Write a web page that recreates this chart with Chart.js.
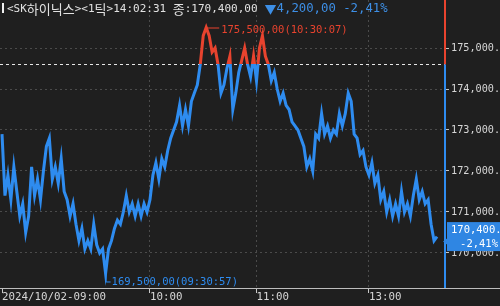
<!DOCTYPE html>
<html><head><meta charset="utf-8">
<script src="https://cdn.jsdelivr.net/npm/chart.js@4"></script>
<style>html,body{margin:0;padding:0;background:#1f1f1f;overflow:hidden}#wrap{width:500px;height:306px;position:relative}</style>
</head><body><div id="wrap"><canvas id="c" width="500" height="306"></canvas></div>
<script>
// ---- data (tick sequence, price in KRW) ----
const prices = [
172900,171400,171900,171300,172100,171500,170900,171200,170500,170900,
172100,171400,171800,171300,172000,172600,172800,171800,172100,171700,
172300,171500,171300,170900,171200,170700,170300,170600,170100,170300,
170100,170700,170200,170000,170100,169500,170100,170300,170600,170800,
170700,171000,171400,171000,171200,170900,171200,170900,171200,171000,
171300,171900,172200,171800,172300,172100,172500,172800,173000,173200,
173600,173100,173500,173100,173700,173900,174100,174600,175300,175500,
175300,174900,175000,174600,173900,174100,174500,174800,173500,173900,
174400,174700,175000,174600,174300,174800,174200,175000,175300,174800,
174600,174200,174400,174000,173700,173900,173600,173500,173200,173100,
173000,172800,172600,172100,172300,172000,172900,172800,173400,172900,
173100,172800,173000,172900,173400,173100,173400,173900,173700,172900,
172800,172400,172500,172100,171900,172200,171700,171900,171300,171500,
171000,171300,170900,171200,170900,171500,171000,171200,170900,171400,
171800,171300,171500,171200,171300,170700,170300,170400
];
const timeTickIndex = [0, 50, 86, 124];
const timeTickLabels = ['2024/10/02-09:00', '10:00', '11:00', '13:00'];
const priceTicks = [170000, 171000, 172000, 173000, 174000, 175000];
const prevClose = 174600;
const stockName = 'SK하이닉스';
const tickUnit = '1틱';
const lastTime = '14:02:31';
const highTime = '10:30:07';
const lowTime = '09:30:57';

// ---- styles ----
const BG = '#1f1f1f';
const BLUE = '#2e8cf0';
const RED = '#e8432e';
const TXT = '#d6d6d6';
const GRID = 'rgba(105,105,105,0.6)';
const MONO = '"DejaVu Sans Mono", "Noto Sans CJK KR", monospace';
const HANGUL = '"Noto Sans CJK KR", sans-serif';

const fmtC = v => Math.abs(v).toLocaleString('en-US') + ',00';
const fmtAxis = v => v.toLocaleString('en-US') + '.00';

const last = prices[prices.length - 1];
const chg = last - prevClose;
const pct = Math.abs(chg / prevClose * 100).toFixed(2).replace('.', ',');

function lineColor(c) {
  const ch = c.chart, a = ch.chartArea;
  if (!a) return BLUE;
  const y = ch.scales.y.getPixelForValue(prevClose);
  const g = ch.ctx.createLinearGradient(0, a.top, 0, a.bottom);
  const f = Math.min(1, Math.max(0, (y - a.top) / (a.bottom - a.top)));
  g.addColorStop(0, RED); g.addColorStop(f, RED);
  g.addColorStop(f, BLUE); g.addColorStop(1, BLUE);
  return g;
}

// draw text with half-width ASCII and full-width Hangul, like the HTS font
const WIDE = /[\u1100-\u11FF\u3130-\u318F\uAC00-\uD7AF\u25B2\u25BC]/;
function drawRuns(c, text, x, y, asciiSize, wideSize) {
  const runs = text.match(/[\u1100-\u11FF\u3130-\u318F\uAC00-\uD7AF\u25B2\u25BC]+|[^\u1100-\u11FF\u3130-\u318F\uAC00-\uD7AF\u25B2\u25BC]+/g) || [];
  for (const r of runs) {
    const wide = WIDE.test(r);
    c.font = wide ? (wideSize + 'px ' + HANGUL) : (asciiSize + 'px ' + MONO);
    c.fillText(r, x, y);
    x += c.measureText(r).width;
  }
  return x;
}

const deco = {
  id: 'deco',
  beforeDraw(ch) {
    const c = ch.ctx; c.save(); c.fillStyle = BG; c.fillRect(0, 0, ch.width, ch.height); c.restore();
  },
  beforeDatasetsDraw(ch) {
    const c = ch.ctx, a = ch.chartArea;
    const y = Math.round(ch.scales.y.getPixelForValue(prevClose)) + 0.5;
    c.save(); c.strokeStyle = '#e6e6e6'; c.lineWidth = 1; c.setLineDash([3, 3]);
    c.beginPath(); c.moveTo(a.left, y); c.lineTo(a.right, y); c.stroke(); c.restore();
  },
  afterDatasetsDraw(ch) {
    const c = ch.ctx, a = ch.chartArea, xs = ch.scales.x, ys = ch.scales.y;
    const yRef = ys.getPixelForValue(prevClose);
    c.save();
    // right edge line, red above prev close, blue below
    c.lineWidth = 2;
    c.strokeStyle = RED; c.beginPath(); c.moveTo(a.right, 0); c.lineTo(a.right, yRef); c.stroke();
    c.strokeStyle = BLUE; c.beginPath(); c.moveTo(a.right, yRef); c.lineTo(a.right, a.bottom); c.stroke();
    // bottom axis line
    c.lineWidth = 1; c.strokeStyle = '#bdbdbd';
    c.beginPath(); c.moveTo(0, a.bottom + 0.5); c.lineTo(ch.width, a.bottom + 0.5); c.stroke();

    // high / low annotations
    let hi = 0, lo = 0;
    prices.forEach((p, i) => { if (p > prices[hi]) hi = i; if (p < prices[lo]) lo = i; });
    c.font = '10.5px ' + MONO; c.textBaseline = 'middle'; c.textAlign = 'left';
    let px = xs.getPixelForValue(hi), py = ys.getPixelForValue(prices[hi]);
    c.strokeStyle = RED; c.fillStyle = RED;
    c.beginPath(); c.moveTo(px, py + 0.5); c.lineTo(px + 13, py + 0.5); c.stroke();
    c.fillText(fmtC(prices[hi]) + '(' + highTime + ')', px + 15, py + 3);
    px = xs.getPixelForValue(lo); py = ys.getPixelForValue(prices[lo]);
    c.strokeStyle = BLUE; c.fillStyle = BLUE;
    c.beginPath(); c.moveTo(px + 0.5, py); c.lineTo(px + 0.5, py + 8.5); c.lineTo(px + 5, py + 8.5); c.stroke();
    c.fillText(fmtC(prices[lo]) + '(' + lowTime + ')', px + 6, py + 8.5);

    // header
    c.fillStyle = '#f0f0f0'; c.fillRect(2, 3, 2, 10);
    c.fillStyle = '#e2e2e2';
    const head = '<' + stockName + '><' + tickUnit + '>' + lastTime + ' 종:' + fmtC(last);
    const xEnd = drawRuns(c, head, 7, 9, 11, 13);
    c.fillStyle = '#3d8fe6';
    drawRuns(c, (chg < 0 ? '▼' : '▲') + fmtC(chg) + ' ' + (chg < 0 ? '-' : '') + pct + '%', xEnd + 7, 9, 12.3, 12);

    // current price box
    const yl = ys.getPixelForValue(last);
    c.fillStyle = '#2f86e3';
    c.fillRect(447, yl - 14.5, 60, 29);
    c.beginPath(); c.moveTo(447, yl + 2); c.lineTo(443, yl + 5); c.lineTo(447, yl + 8); c.closePath(); c.fill();
    c.fillStyle = '#ffffff'; c.font = '10.5px ' + MONO;
    c.textAlign = 'left';
    c.fillText(fmtAxis(last), 451, yl - 6.5);
    c.textAlign = 'right';
    c.fillText((chg < 0 ? '-' : '') + pct + '%', 498, yl + 7.5);
    c.restore();
  }
};

const noPad = s => { s.paddingTop = 0; s.paddingBottom = 0; s.paddingLeft = 0; s.paddingRight = 0; };

new Chart(document.getElementById('c'), {
  type: 'line',
  data: {
    datasets: [{
      data: prices.map((p, i) => ({ x: i, y: p })),
      borderColor: lineColor, borderWidth: 3, pointRadius: 0, tension: 0, fill: false
    }]
  },
  options: {
    responsive: false, animation: false, events: [],
    layout: { padding: 0 },
    plugins: { legend: { display: false }, tooltip: { enabled: false } },
    scales: {
      x: {
        type: 'linear', min: -0.68, max: 149.7,
        afterBuildTicks: s => { s.ticks = timeTickIndex.map(v => ({ value: v })); },
        afterFit: s => { s.height = 18; noPad(s); },
        ticks: {
          callback: v => { const k = timeTickIndex.indexOf(v); return k >= 0 ? timeTickLabels[k] : ''; },
          align: 'start', maxRotation: 0, minRotation: 0, autoSkip: false, padding: -2,
          color: TXT, font: { family: MONO, size: 10.8 }
        },
        grid: {
          color: ctx => (ctx.tick && ctx.tick.value === 0) ? 'rgba(0,0,0,0)' : GRID,
          tickColor: '#c8c8c8', tickLength: 5, tickBorderDash: []
        },
        border: { display: false, dash: [2, 3] }
      },
      y: {
        type: 'linear', position: 'right', min: 169146, max: 176171,
        afterBuildTicks: s => { s.ticks = priceTicks.map(v => ({ value: v })); },
        afterFit: s => { s.width = 55; noPad(s); },
        ticks: { callback: v => fmtAxis(v), padding: 2, color: TXT, font: { family: MONO, size: 10.2 } },
        grid: { color: GRID, tickColor: '#c8c8c8', tickLength: 4, tickBorderDash: [] },
        border: { display: false, dash: [2, 3] }
      }
    }
  },
  plugins: [deco]
});
</script>
</body></html>
